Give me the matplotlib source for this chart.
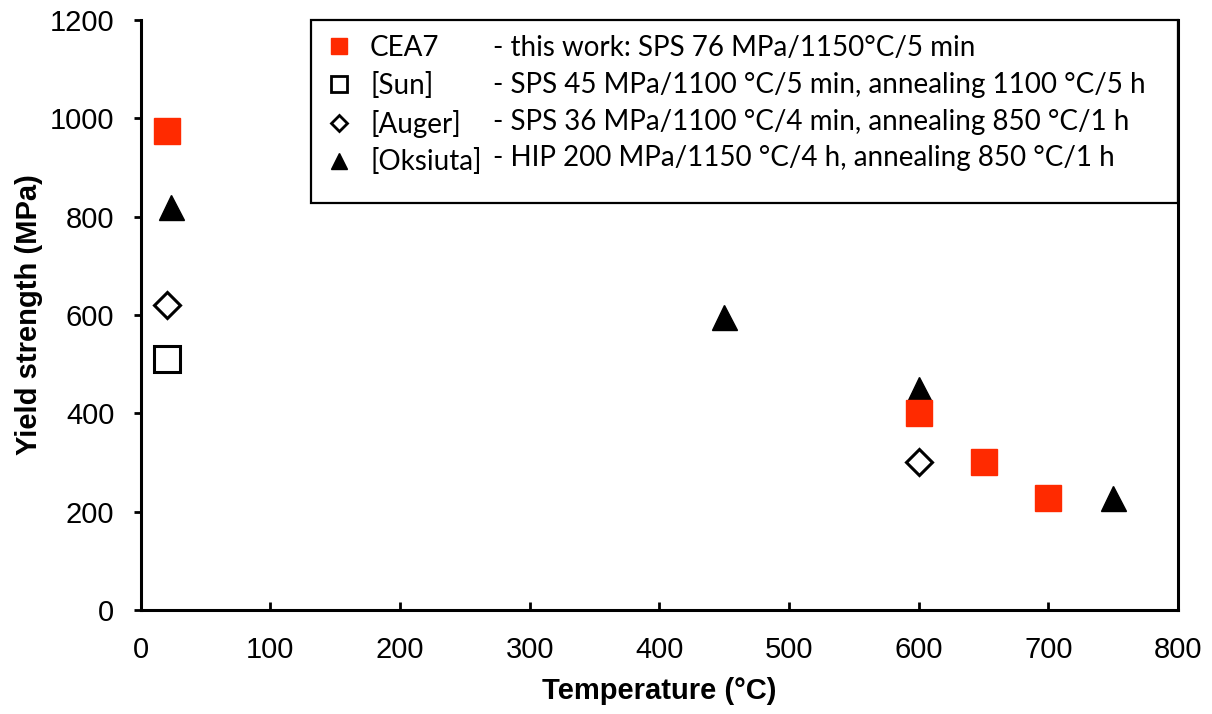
import matplotlib
matplotlib.use("Agg")
import matplotlib.pyplot as plt
from matplotlib.lines import Line2D
from matplotlib.patches import Rectangle

# Yield strength versus test temperature for several ODS steels
temp_cea7 = [20, 600, 650, 700]
ys_cea7 = [975, 400, 300, 228]
temp_sun = [20]
ys_sun = [510]
temp_auger = [20, 600]
ys_auger = [620, 300]
temp_oksiuta = [23, 450, 600, 750]
ys_oksiuta = [820, 595, 450, 228]

series_names = ["CEA7", "[Sun]", "[Auger]", "[Oksiuta]"]
series_notes = [
    "- this work: SPS 76 MPa/1150°C/5 min",
    "- SPS 45 MPa/1100 °C/5 min, annealing 1100 °C/5 h",
    "- SPS 36 MPa/1100 °C/4 min, annealing 850 °C/1 h",
    "- HIP 200 MPa/1150 °C/4 h, annealing 850 °C/1 h",
]
x_ticks = [0, 100, 200, 300, 400, 500, 600, 700, 800]
y_ticks = [0, 200, 400, 600, 800, 1000, 1200]

RED = "#FF2A00"
TICK_FONT = "Liberation Sans"
LEGEND_FONT = "Lato"

fig = plt.figure(figsize=(12.12, 7.14), dpi=100)
ax = fig.add_axes([0.1161, 0.1457, 0.972 - 0.1161, 0.972 - 0.1457])

ax.plot(temp_sun, ys_sun, ls="none", marker="s", ms=18.5, mfc="white",
        mec="black", mew=2.2, zorder=3)
ax.plot(temp_auger, ys_auger, ls="none", marker="D", ms=13.2, mfc="white",
        mec="black", mew=2.2, zorder=3)
ax.plot(temp_oksiuta, ys_oksiuta, ls="none", marker="^", ms=18,
        color="black", zorder=3)
ax.plot(temp_cea7, ys_cea7, ls="none", marker="s", ms=18.7, color=RED,
        mec=RED, zorder=4)

ax.set_xlim(0, 800)
ax.set_ylim(0, 1200)
ax.set_xticks(x_ticks)
ax.set_yticks(y_ticks)

for side in ("left", "bottom", "right"):
    ax.spines[side].set_linewidth(2.2)
    ax.spines[side].set_color("black")
ax.spines["top"].set_visible(False)

ax.tick_params(axis="x", direction="in", length=6, width=2, pad=19,
               labelsize=21, colors="black")
ax.tick_params(axis="y", direction="out", length=5, width=2, pad=14,
               labelsize=21, colors="black")
for lab in ax.get_xticklabels() + ax.get_yticklabels():
    lab.set_fontfamily(TICK_FONT)

ax.set_xlabel("Temperature (°C)", fontsize=21, fontweight="bold",
              fontfamily=TICK_FONT, labelpad=9)
ax.set_ylabel("Yield strength (MPa)", fontsize=21, fontweight="bold",
              fontfamily=TICK_FONT, labelpad=5)

# Legend: marker + source name in the first column, conditions in the second
handles = [
    Line2D([], [], ls="none", marker="s", ms=12, color=RED, mec=RED),
    Line2D([], [], ls="none", marker="s", ms=11, mfc="white", mec="black", mew=2),
    Line2D([], [], ls="none", marker="D", ms=8, mfc="white", mec="black", mew=2),
    Line2D([], [], ls="none", marker="^", ms=11, color="black"),
]
blanks = [Line2D([], [], ls="none") for _ in series_notes]

box_x0, box_y0 = 0.164, 0.690
leg = ax.legend(handles + blanks, series_names + series_notes, ncol=2,
                loc="upper left", bbox_to_anchor=(box_x0, 1.0),
                borderaxespad=0, borderpad=0.54, frameon=False,
                handlelength=0.94, handletextpad=0.65, columnspacing=-1.16,
                labelspacing=0.39,
                prop={"family": LEGEND_FONT, "size": 20})
ax.add_patch(Rectangle((box_x0, box_y0), 1 - box_x0, 1 - box_y0,
                       transform=ax.transAxes, fill=False, ec="black",
                       lw=1.6, clip_on=False, zorder=5))

fig.savefig("out.png", dpi=100)
